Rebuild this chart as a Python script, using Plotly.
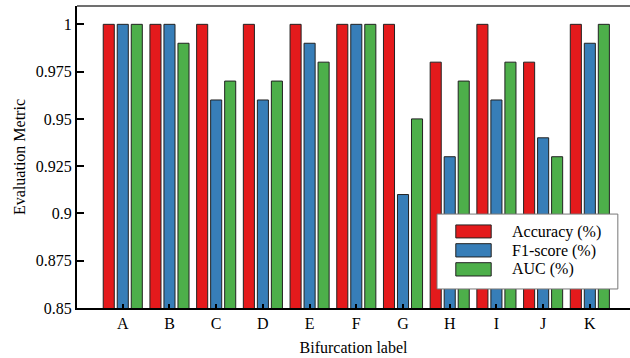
import plotly.graph_objects as go

categories = ["A", "B", "C", "D", "E", "F", "G", "H", "I", "J", "K"]
accuracy = [1, 1, 1, 1, 1, 1, 1, 0.98, 1, 0.98, 1]
f1_score = [1, 1, 0.96, 0.96, 0.99, 1, 0.91, 0.93, 0.96, 0.94, 0.99]
auc = [1, 0.99, 0.97, 0.97, 0.98, 1, 0.95, 0.97, 0.98, 0.93, 1]
series_names = ["Accuracy (%)", "F1-score (%)", "AUC (%)"]
series_colors = ["#E41A1C", "#377EB8", "#4DAF4A"]
y_tickvals = [0.85, 0.875, 0.9, 0.925, 0.95, 0.975, 1]
y_ticktext = ["0.85", "0.875", "0.9", "0.925", "0.95", "0.975", "1"]

font = "Liberation Serif"
fs = 16
fig = go.Figure()
for name, vals, col in zip(series_names, [accuracy, f1_score, auc], series_colors):
    fig.add_trace(go.Bar(x=list(range(len(categories))), y=vals, name=name,
                         marker=dict(color=col, line=dict(color="#222222", width=1))))

fig.update_layout(
    width=630, height=358,
    margin=dict(l=77, r=0, t=6, b=50),
    barmode="group", bargap=0.1, bargroupgap=0.21,
    plot_bgcolor="white", paper_bgcolor="white",
    font=dict(family=font, size=fs, color="black"),
    showlegend=False,
    xaxis=dict(range=[-0.98, 10.86], tickvals=list(range(len(categories))),
               ticktext=categories, showline=True, linecolor="black", linewidth=2,
               ticks="inside", ticklen=4, tickwidth=1.5, tickcolor="black",
               showgrid=False, zeroline=False, automargin=False, mirror=False,
               tickfont=dict(family=font, size=fs),
               title=dict(text="Bifurcation label", font=dict(family=font, size=fs), standoff=11)),
    yaxis=dict(range=[0.85, 1.0097], tickvals=y_tickvals, ticktext=y_ticktext,
               showline=True, linecolor="black", linewidth=2,
               ticks="inside", ticklen=7, tickwidth=2, tickcolor="black",
               showgrid=False, zeroline=False, automargin=False, mirror=False,
               tickfont=dict(family=font, size=fs),
               title=dict(text="Evaluation Metric", font=dict(family=font, size=fs), standoff=6)),
)
fig.add_shape(type="line", xref="paper", yref="paper", x0=0, x1=1, y0=1, y1=1,
              line=dict(color="#707070", width=2))

# manual legend
fig.add_shape(type="rect", xref="paper", yref="paper", x0=0.651, x1=0.978, y0=0.063, y1=0.311,
              line=dict(color="#777777", width=1), fillcolor="white", layer="above")
sw = [(0.232, 0.275, 0.252), (0.169, 0.213, 0.190), (0.106, 0.150, 0.128)]
for (y0, y1, yt), name, col in zip(sw, series_names, series_colors):
    fig.add_shape(type="rect", xref="paper", yref="paper", x0=0.685, x1=0.749, y0=y0, y1=y1,
                  line=dict(color="#222222", width=1), fillcolor=col, layer="above")
    fig.add_annotation(xref="paper", yref="paper", x=0.783, y=yt, text=name, showarrow=False,
                       xanchor="left", yanchor="middle", font=dict(family=font, size=fs))

css_js = (
    "var s=document.createElement('style');"
    "s.textContent='html,body{margin:0;padding:0;overflow:hidden;}"
    "::-webkit-scrollbar{width:0;height:0;display:none;}';"
    "document.head.appendChild(s);"
)
fig.write_html("out.html", config={"displayModeBar": False}, post_script=css_js)
